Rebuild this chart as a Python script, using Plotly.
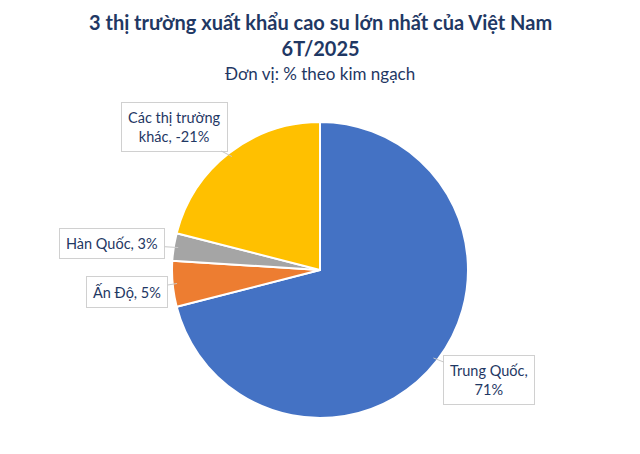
import math
import plotly.graph_objs as go

# Chart data
markets = ['Trung Quốc', 'Ấn Độ', 'Hàn Quốc', 'Các thị trường khác']
shares = [71, 5, 3, 21]
label_texts = ['Trung Quốc,<br>71%', 'Ấn Độ, 5%', 'Hàn Quốc, 3%', 'Các thị trường<br>khác, -21%']
colors = ['#4472C4', '#ED7D31', '#A5A5A5', '#FFC000']

# Callout offsets (pixels from slice edge to label box)
offsets = [(56, 22), (-50, 8), (-66, -4), (-58, -30)]

W, H = 640, 454
cx, cy, R = 320, 270, 148   # pie centre and radius in pixels
navy = '#1F3864'
font_family = 'Lato, Noto Sans'

fig = go.Figure()

fig.add_trace(go.Pie(
    labels=markets,
    values=shares,
    sort=False,
    direction='clockwise',
    rotation=0,
    marker=dict(colors=colors, line=dict(color='white', width=2)),
    textinfo='none',
    hoverinfo='label+percent',
    showlegend=False,
    domain=dict(x=[(cx - R) / W, (cx + R) / W],
                y=[1 - (cy + R) / H, 1 - (cy - R) / H])
))

# Callout labels pointing to the middle of each slice
total = sum(shares)
cum = 0
annotations = []
for i, v in enumerate(shares):
    mid = (cum + v / 2) / total * 2 * math.pi
    cum += v
    px = cx + R * 0.97 * math.sin(mid)
    py = cy - R * 0.97 * math.cos(mid)
    annotations.append(dict(
        x=px / W, y=1 - py / H, xref='paper', yref='paper',
        text=label_texts[i],
        showarrow=True, arrowhead=0, arrowwidth=1, arrowcolor='#C8C8C8',
        ax=offsets[i][0], ay=offsets[i][1], standoff=0,
        bgcolor='white', bordercolor='#D0D0D0', borderwidth=1, borderpad=6,
        font=dict(family=font_family, size=14.5, color=navy),
        align='center'
    ))

# Titles
annotations.append(dict(
    x=0.5, y=1 - 35 / H, xref='paper', yref='paper', showarrow=False,
    xanchor='center', yanchor='middle',
    text='<b>3 thị trường xuất khẩu cao su lớn nhất của Việt Nam<br>6T/2025</b>',
    font=dict(family=font_family, size=20, color=navy), align='center'
))
annotations.append(dict(
    x=0.5, y=1 - 74 / H, xref='paper', yref='paper', showarrow=False,
    xanchor='center', yanchor='middle',
    text='Đơn vị: % theo kim ngạch',
    font=dict(family=font_family, size=17, color=navy)
))

fig.update_layout(
    width=W, height=H,
    margin=dict(l=0, r=0, t=0, b=0),
    paper_bgcolor='white',
    plot_bgcolor='white',
    annotations=annotations
)

fig.write_html('out.html', config={'displayModeBar': False},
               post_script="document.body.style.margin='0px';")
